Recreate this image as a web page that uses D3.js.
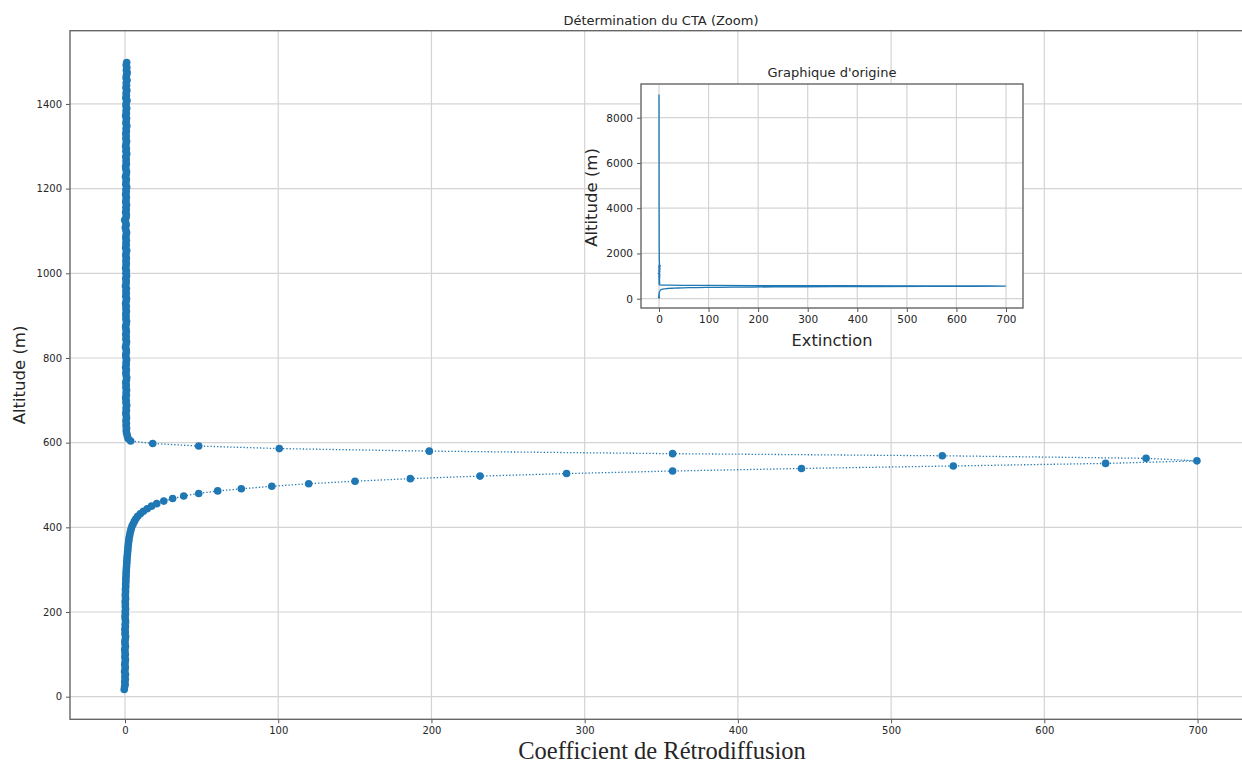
<!DOCTYPE html>
<meta charset="utf-8">
<head>
  <meta charset="utf-8">
  <script src="https://d3js.org/d3.v7.min.js"></script>
  <style>
    body { margin: 0; background: #fff; }
    svg text { font-family: "DejaVu Sans", sans-serif; fill: #262626; }
  </style>
</head>
<body>
<svg width="1242" height="764"></svg>
<script>
// lower part of the profile (altitude in m, backscatter coefficient)
var altLow = [
  17,23,29,35,41,47,53,59,64,70,
  76,82,88,94,100,106,112,118,124,130,
  136,142,148,153,159,165,171,177,183,189,
  195,201,207,213,219,225,231,236,242,248,
  254,260,266,272,278,284,290,296,302,308,
  314,319,325,331,337,343,349,355,361,367,
  373,379,385,391,397,403,408,414,420,426,
  432,438,444,450,456,462,468,474,480,486,
  491,497,503,509,515,521,527,533,539,545,551];
var coefLow = [
  -0.5,-0.3,0.1,-0.2,0.2,-0.1,0.3,-0.3,0.0,0.2,
  -0.2,0.1,0.3,-0.1,0.2,0.0,-0.2,0.3,0.1,-0.1,
  0.2,0.4,0.0,0.2,-0.1,0.3,0.1,0.4,0.2,0.0,
  0.3,0.1,0.4,0.2,0.3,0.1,0.4,0.3,0.2,0.4,
  0.3,0.5,0.4,0.6,0.5,0.7,0.7,0.8,0.9,1.0,
  1.1,1.2,1.3,1.4,1.6,1.7,1.9,2.0,2.2,2.4,
  2.6,2.9,3.2,3.6,4.1,4.6,5.3,6.1,7.1,8.3,
  10.0,12.0,14.5,17.3,20.7,25.3,31.1,38.3,48.1,60.5,
  75.9,95.8,119.9,150.1,186.2,231.7,288.2,357.4,441.5,540.6,640.0];

// upper part (peak then the vertical column)
var altHigh = [
  557,563,569,574,580,586,592,598,604,
  610,616,622,628,634,640,646,652,658,664,
  670,676,682,688,694,700,706,712,718,724,
  730,736,742,748,754,760,766,772,778,784,
  790,796,802,808,814,820,826,832,838,844,
  850,856,862,868,874,880,886,892,898,904,
  910,916,922,928,934,940,946,952,958,964,
  970,976,982,988,994,1000,1006,1012,1018,1024,
  1030,1036,1042,1048,1054,1060,1066,1072,1078,1084,
  1090,1096,1102,1108,1114,1120,1126,1132,1138,1144,
  1150,1156,1162,1168,1174,1180,1186,1192,1198,1204,
  1210,1216,1222,1228,1234,1240,1246,1252,1258,1264,
  1270,1276,1282,1288,1294,1300,1306,1312,1318,1324,
  1330,1336,1342,1348,1354,1360,1366,1372,1378,1384,
  1390,1396,1402,1408,1414,1420,1426,1432,1438,1444,
  1450,1456,1462,1468,1474,1480,1486,1492,1498];
var coefHigh = [
  699.6,666.4,533.4,357.4,198.6,100.7,48.1,18.1,3.7,
  2.0,1.5,1.1,0.8,1.0,0.7,0.9,0.6,1.0,0.8,
  0.5,0.9,0.7,1.1,0.6,0.8,0.4,0.9,0.7,1.0,
  0.6,0.8,0.5,0.9,1.1,0.7,0.6,0.9,0.4,0.8,
  0.7,1.0,0.6,0.5,0.9,0.8,0.3,0.7,1.0,0.6,
  0.8,0.5,0.9,0.7,0.4,0.8,1.0,0.6,0.7,0.5,
  0.9,0.6,0.8,0.4,0.7,1.0,0.5,0.8,0.6,0.9,
  0.3,0.7,0.8,0.5,1.0,0.6,0.9,0.4,0.7,0.8,
  0.6,0.9,0.5,0.7,1.1,0.4,0.8,0.6,0.9,0.5,
  0.7,1.0,0.6,0.2,0.8,0.5,-0.2,0.7,0.9,0.4,
  0.8,0.6,1.0,0.5,0.7,0.9,0.4,0.8,0.6,1.1,
  0.5,0.7,0.9,0.3,0.8,1.0,0.6,0.4,0.9,0.7,
  0.8,0.5,1.1,0.6,0.9,0.4,0.7,1.0,0.6,0.8,
  0.5,0.9,0.7,1.2,0.6,0.8,1.0,0.4,0.9,0.7,
  1.1,0.6,0.8,1.3,0.5,0.9,0.7,1.2,0.6,1.0,
  0.8,1.3,0.7,1.0,1.4,0.9,1.2,0.8,1.1];

// rest of the original profile, only shown in the inset
var altTop = [1700, 2500, 3500, 4500, 5500, 6500, 7500, 8500, 9030];
var coefTop = [0.6, 0.4, 0.3, 0.2, 0.2, 0.1, 0.1, 0.1, 0.0];

var xTicks = [0, 100, 200, 300, 400, 500, 600, 700];
var yTicks = [0, 200, 400, 600, 800, 1000, 1200, 1400];
var insetYTicks = [0, 2000, 4000, 6000, 8000];

var blue = "#1f77b4";
var svg = d3.select("svg");
var fmt = d3.format("d");

var data = altLow.map(function(a, i) { return {a: a, v: coefLow[i]}; })
  .concat(altHigh.map(function(a, i) { return {a: a, v: coefHigh[i]}; }));
var fullData = data.concat(altTop.map(function(a, i) { return {a: a, v: coefTop[i]}; }));

// ---- main axes
var pLeft = 70, pRight = 1252.7, pTop = 30.7, pBottom = 719.3;
var x = d3.scaleLinear().domain([-35.9, 736]).range([pLeft, pRight]);
var y = d3.scaleLinear().domain([-53.4, 1573]).range([pBottom, pTop]);

var grid = svg.append("g").attr("stroke", "#d4d4d4").attr("stroke-width", 1.2);
grid.selectAll(".gx").data(xTicks).enter().append("line")
  .attr("x1", function(d) { return x(d); }).attr("x2", function(d) { return x(d); })
  .attr("y1", pTop).attr("y2", pBottom);
grid.selectAll(".gy").data(yTicks).enter().append("line")
  .attr("y1", function(d) { return y(d); }).attr("y2", function(d) { return y(d); })
  .attr("x1", pLeft).attr("x2", pRight);

var xAxis = svg.append("g").attr("transform", "translate(0," + pBottom + ")")
  .call(d3.axisBottom(x).tickValues(xTicks).tickFormat(fmt).tickSize(4).tickPadding(4));
var yAxis = svg.append("g").attr("transform", "translate(" + pLeft + ",0)")
  .call(d3.axisLeft(y).tickValues(yTicks).tickFormat(fmt).tickSize(4).tickPadding(4));
[xAxis, yAxis].forEach(function(g) {
  g.select(".domain").remove();
  g.selectAll("line").attr("stroke", "#555");
  g.selectAll("text").style("font-size", "10px").attr("fill", "#333");
});

svg.append("rect").attr("x", pLeft).attr("y", pTop)
  .attr("width", pRight - pLeft).attr("height", pBottom - pTop)
  .attr("fill", "none").attr("stroke", "#666").attr("stroke-width", 1.4);

var line = d3.line().x(function(d) { return x(d.v); }).y(function(d) { return y(d.a); });
svg.append("path").datum(data).attr("d", line)
  .attr("fill", "none").attr("stroke", blue)
  .attr("stroke-width", 1.3).attr("stroke-dasharray", "1.3,2");
svg.append("g").selectAll("circle").data(data).enter().append("circle")
  .attr("cx", function(d) { return x(d.v); })
  .attr("cy", function(d) { return y(d.a); })
  .attr("r", 3.8).attr("fill", blue);

svg.append("text").attr("x", 661).attr("y", 25).attr("text-anchor", "middle")
  .style("font-size", "13px").text("Détermination du CTA (Zoom)");
svg.append("text").attr("transform", "translate(25,375) rotate(-90)")
  .attr("text-anchor", "middle").style("font-size", "16.5px").text("Altitude (m)");
svg.append("text").attr("x", 662).attr("y", 759).attr("text-anchor", "middle")
  .style("font-family", "'Liberation Serif', serif").style("font-size", "24.5px")
  .attr("fill", "#111").text("Coefficient de Rétrodiffusion");

// ---- inset with the original full profile
var iL = 641, iR = 1023, iT = 84, iB = 308;
var xi = d3.scaleLinear().domain([-36.3, 734.3]).range([iL, iR]);
var yi = d3.scaleLinear().domain([-411, 9490]).range([iB, iT]);

var inset = svg.append("g");
inset.append("rect").attr("x", iL).attr("y", iT).attr("width", iR - iL).attr("height", iB - iT)
  .attr("fill", "#fff");
var igrid = inset.append("g").attr("stroke", "#d4d4d4").attr("stroke-width", 1.2);
igrid.selectAll(".gx").data(xTicks).enter().append("line")
  .attr("x1", function(d) { return xi(d); }).attr("x2", function(d) { return xi(d); })
  .attr("y1", iT).attr("y2", iB);
igrid.selectAll(".gy").data(insetYTicks).enter().append("line")
  .attr("y1", function(d) { return yi(d); }).attr("y2", function(d) { return yi(d); })
  .attr("x1", iL).attr("x2", iR);

var ixAxis = inset.append("g").attr("transform", "translate(0," + iB + ")")
  .call(d3.axisBottom(xi).tickValues(xTicks).tickFormat(fmt).tickSize(4).tickPadding(4));
var iyAxis = inset.append("g").attr("transform", "translate(" + iL + ",0)")
  .call(d3.axisLeft(yi).tickValues(insetYTicks).tickFormat(fmt).tickSize(4).tickPadding(4));
[ixAxis, iyAxis].forEach(function(g) {
  g.select(".domain").remove();
  g.selectAll("line").attr("stroke", "#555");
  g.selectAll("text").style("font-size", "10.5px").attr("fill", "#333");
});

var iline = d3.line().x(function(d) { return xi(d.v); }).y(function(d) { return yi(d.a); });
inset.append("path").datum(fullData).attr("d", iline)
  .attr("fill", "none").attr("stroke", blue).attr("stroke-width", 1.3);

inset.append("rect").attr("x", iL).attr("y", iT).attr("width", iR - iL).attr("height", iB - iT)
  .attr("fill", "none").attr("stroke", "#666").attr("stroke-width", 1.4);

inset.append("text").attr("x", 832).attr("y", 77).attr("text-anchor", "middle")
  .style("font-size", "13px").text("Graphique d'origine");
inset.append("text").attr("x", 832).attr("y", 346).attr("text-anchor", "middle")
  .style("font-size", "16.2px").text("Extinction");
inset.append("text").attr("transform", "translate(597,197.5) rotate(-90)")
  .attr("text-anchor", "middle").style("font-size", "16.5px").text("Altitude (m)");
</script>
</body>
